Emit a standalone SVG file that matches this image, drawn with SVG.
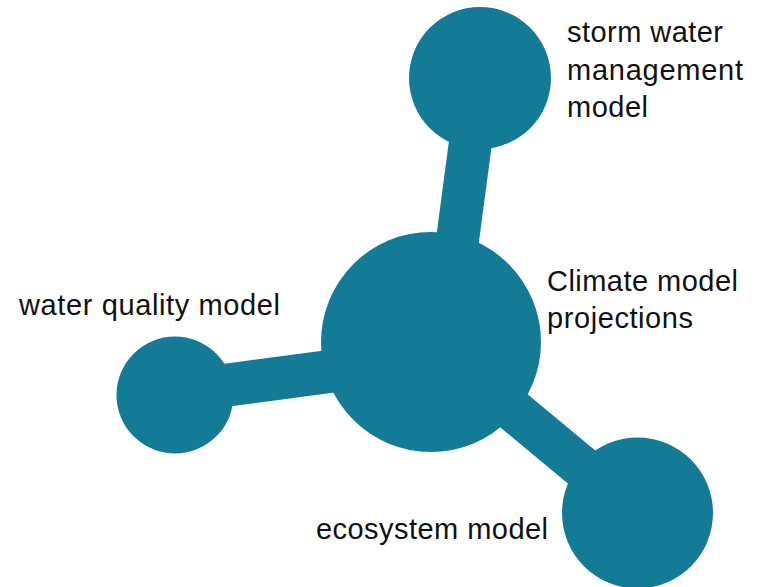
<svg xmlns="http://www.w3.org/2000/svg" width="761" height="587" viewBox="0 0 761 587">
  <style>
    .node { fill: #147B96; }
    .link { stroke: #147B96; stroke-width: 43; fill: none; }
    .label { font-family: "Liberation Sans", Arial, sans-serif; font-size: 29px; fill: #111111; }
  </style>
  <rect width="761" height="587" fill="#ffffff"/>
  <g id="connectors">
    <line class="link" x1="444" y1="342" x2="479" y2="78"/>
    <line class="link" x1="431" y1="358" x2="175" y2="392"/>
    <line class="link" x1="431" y1="342" x2="637" y2="513"/>
  </g>
  <g id="climate">
    <circle class="node" cx="431" cy="342" r="110"/>
    <text class="label" x="547" y="291" textLength="191">Climate model</text>
    <text class="label" x="547" y="328" textLength="146">projections</text>
  </g>
  <g id="storm">
    <circle class="node" cx="480" cy="78" r="71"/>
    <text class="label" x="567" y="42" textLength="156">storm water</text>
    <text class="label" x="567" y="80" textLength="176">management</text>
    <text class="label" x="567" y="117" textLength="81">model</text>
  </g>
  <g id="waterquality">
    <circle class="node" cx="175" cy="395" r="58.5"/>
    <text class="label" x="19" y="315" textLength="261">water quality model</text>
  </g>
  <g id="ecosystem">
    <circle class="node" cx="637.5" cy="513" r="75.5"/>
    <text class="label" x="316" y="539" textLength="232">ecosystem model</text>
  </g>
</svg>
